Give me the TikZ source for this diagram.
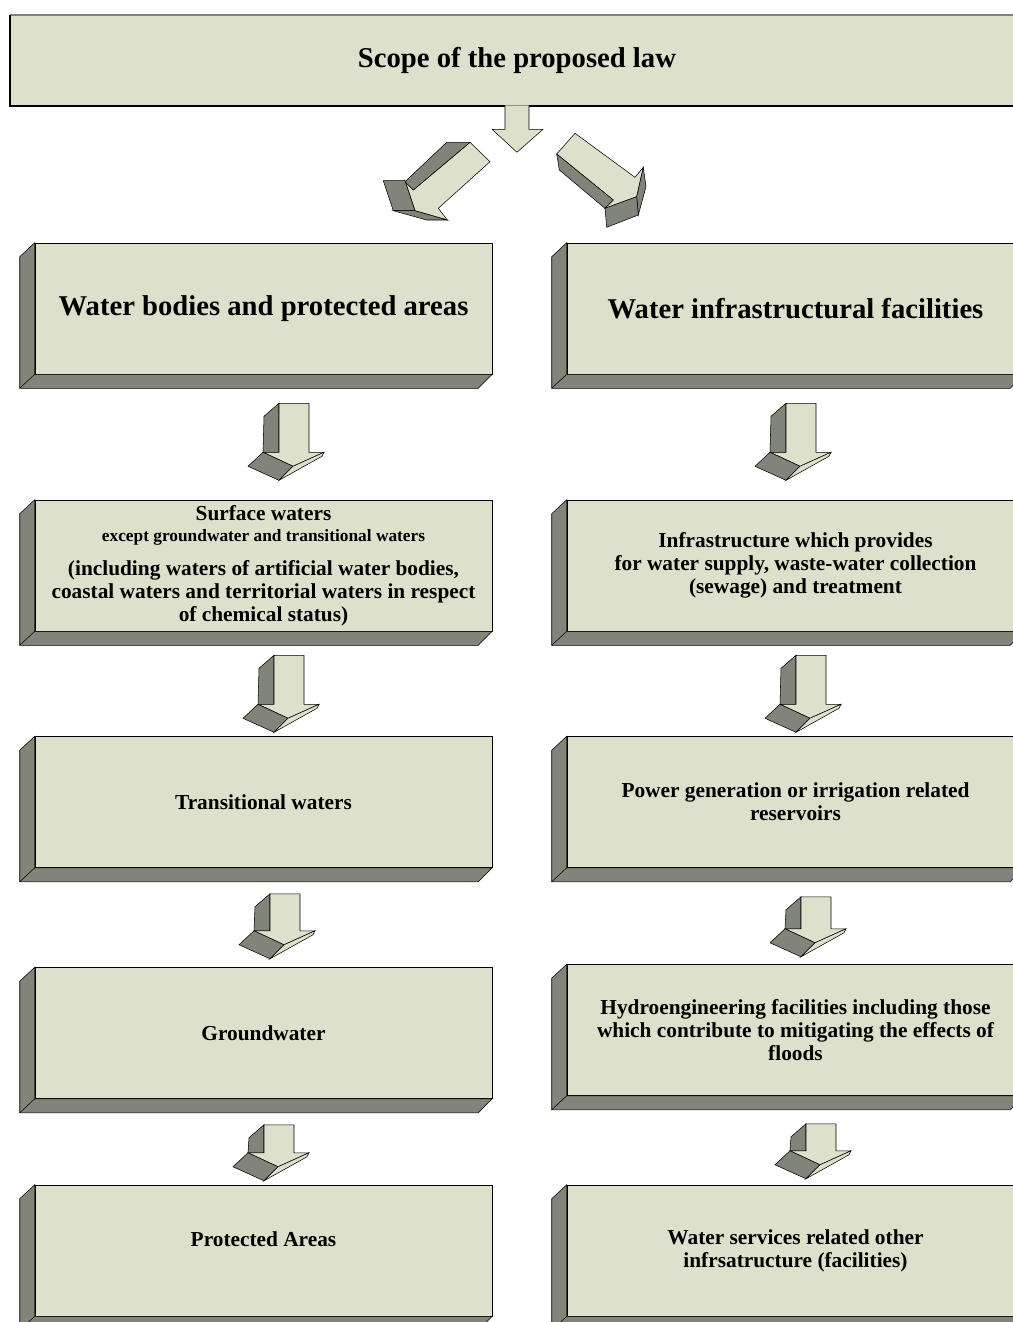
\documentclass[tikz,border=0pt]{standalone}
\usepackage{fontspec}
\setmainfont{Liberation Serif}
\definecolor{paleSage}{HTML}{DDE0CB}
\definecolor{sideGrey}{HTML}{818479}

% 3D block arrow pointing down, #1 = shaft length (px)
\tikzset{
  blockarrow/.pic={
    \filldraw[fill=sideGrey] (0,0) -- (-15,13) -- (-16,#1) -- (0,#1) -- cycle;
    \filldraw[fill=paleSage] (0,0) -- (30,0) -- (30,#1) -- (45,#1) -- (14,#1+14) -- (-16,#1) -- (0,#1) -- cycle;
    \filldraw[fill=sideGrey] (-16,#1) -- (-31,#1+14) -- (0,#1+28) -- (14,#1+14) -- cycle;
    \filldraw[fill=paleSage] (14,#1+14) -- (45,#1) -- (43,#1+4) -- (0,#1+28) -- cycle;
  }
}

% dark left and bottom faces of a raised box
\newcommand{\bevel}[1]{%
  \filldraw[fill=sideGrey] (#1.north west) -- ++(-15,14) -- ([shift={(-15,14)}]#1.south west)
    -- ([shift={(-14,14)}]#1.south east) -- (#1.south east) -- (#1.south west) -- cycle;
  \draw (#1.south west) -- ++(-15,14);
}

\begin{document}
\begin{tikzpicture}[
    x=0.75pt, y=-0.75pt,
    facebox/.style={rectangle, draw=black, fill=paleSage, minimum width=342.75pt,
                    minimum height=98.25pt, align=center, inner sep=2pt,
                    font=\bfseries\fontsize{16}{17.25}\selectfont},
    bigface/.style={facebox, font=\bfseries\fontsize{21.5}{25}\selectfont},
    topbox/.style={rectangle, fill=paleSage, minimum width=760.5pt, minimum height=68.25pt,
                   font=\bfseries\fontsize{21.5}{25}\selectfont},
  ]
  \useasboundingbox (0,0) rectangle (1013,1322);
  \clip (0,0) rectangle (1013,1322);

  % heading
  \node[topbox] (scope) at (517,60.5) {\raisebox{-1.5pt}{Scope of the proposed law}};
  \draw[line width=1.2pt, black!50] (scope.north west) -- (scope.north east);
  \draw[line width=1.2pt] (scope.north west) -- (scope.south west) -- (scope.south east);
  \filldraw[fill=paleSage] ([shift={(-12,-1)}]scope.south) -- ++(0,24) -- ++(-13,0) -- ++(25,23)
    -- ++(26,-23) -- ++(-14,0) -- ++(0,-24);

  % split arrows
  \filldraw[fill=paleSage] (470,142.3) -- (490,161.7) -- (438.3,208.3) -- (447.3,220) -- (415,210.7)
    -- (405,180.7) -- (413.3,190) -- cycle;
  \filldraw[fill=sideGrey] (446.7,142.3) -- (470,142.3) -- (413.3,190) -- (405,181.7) -- cycle;
  \filldraw[fill=sideGrey] (383.3,180.7) -- (405,180.7) -- (415,210.7) -- (393.3,210.7) -- cycle;
  \filldraw[fill=sideGrey] (393.3,210.7) -- (415,210.7) -- (447.3,220) -- (426.7,220) -- cycle;

  \filldraw[fill=paleSage] (575,133.3) -- (635,177.3) -- (643.3,167.3) -- (636.7,196.7) -- (605,208.3)
    -- (613.3,200) -- (556.7,154) -- cycle;
  \filldraw[fill=sideGrey] (556.7,154) -- (613.3,200) -- (605,208.3) -- (559.3,170) -- cycle;
  \filldraw[fill=sideGrey] (636.7,196.7) -- (643.3,167.3) -- (646,186.7) -- (638.3,215) -- cycle;
  \filldraw[fill=sideGrey] (605,208.3) -- (636.7,196.7) -- (638.3,215) -- (606.7,227.3) -- cycle;

  % left column
  \node[bigface] (wb) at (263.5,308.5) {\raisebox{-2pt}{Water bodies and protected areas}};
  \node[facebox] (sw) at (263.5,565.5) {Surface waters\\[-1pt]
    {\fontsize{13}{14}\selectfont except groundwater and transitional waters}\\[8pt]
    (including waters of artificial water bodies,\\coastal waters and territorial waters in respect\\of chemical status)};
  \node[facebox] (tw) at (263.5,802) {Transitional waters};
  \node[facebox] (gw) at (263.5,1033) {Groundwater};
  \node[facebox] (pa) at (263.5,1250.5) {Protected Areas\\\mbox{}};
  \foreach \b in {wb,sw,tw,gw,pa} {\bevel{\b}}

  % right column
  \node[bigface] (wi) at (795.5,308.5) {Water infrastructural facilities};
  \node[facebox] (ws) at (795.5,565.5) {Infrastructure which provides\\for water supply, waste-water collection\\(sewage) and treatment};
  \node[facebox] (pg) at (795.5,802) {Power generation or irrigation related\\reservoirs};
  \node[facebox] (hf) at (795.5,1030) {Hydroengineering facilities including those\\which contribute to mitigating the effects of\\floods};
  \node[facebox] (os) at (795.5,1250.5) {Water services related other\\infrsatructure (facilities)};
  \foreach \b in {wi,ws,pg,hf,os} {\bevel{\b}}

  % block arrows between boxes
  \pic at ([shift={(15.5,29)}]wb.south) {blockarrow=49};
  \pic at ([shift={(10.5,24)}]sw.south) {blockarrow=49};
  \pic at ([shift={(6.5,26)}]tw.south) {blockarrow=37};
  \pic at ([shift={(0.5,26)}]gw.south) {blockarrow=28};
  \pic at ([shift={(-9.5,29)}]wi.south) {blockarrow=49};
  \pic at ([shift={(0.5,24)}]ws.south) {blockarrow=49};
  \pic at ([shift={(5.5,29)}]pg.south) {blockarrow=32};
  \pic at ([shift={(10.5,28)}]hf.south) {blockarrow=27};
\end{tikzpicture}
\end{document}
